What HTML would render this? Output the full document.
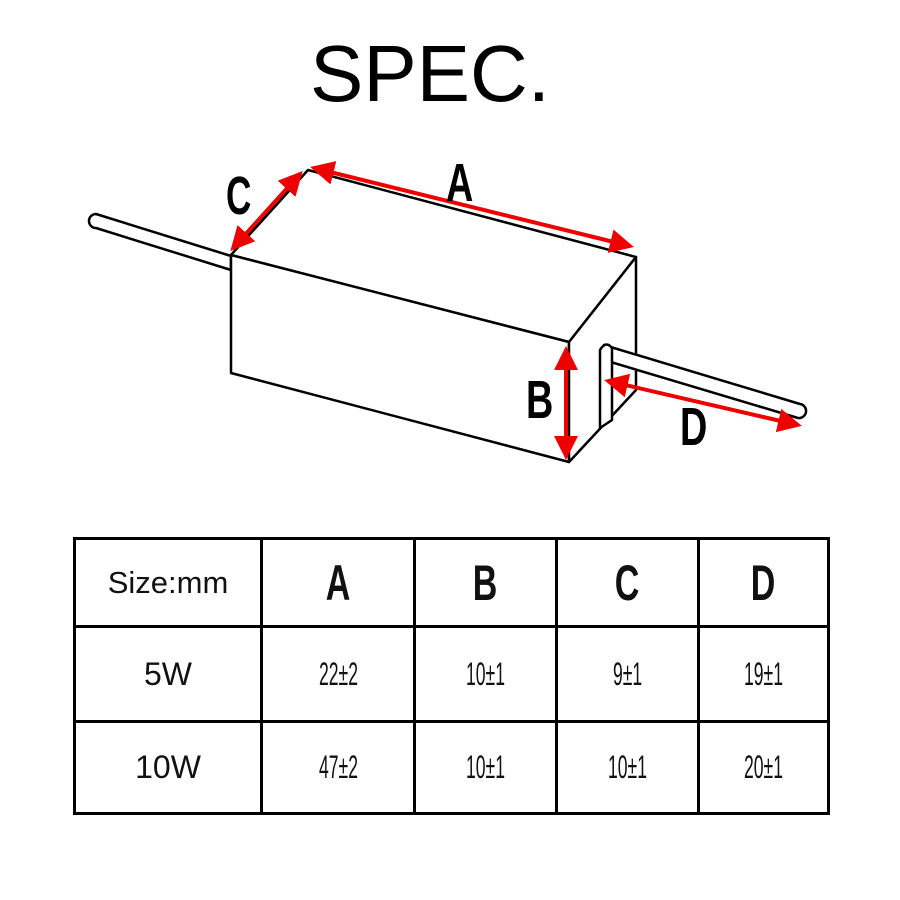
<!DOCTYPE html>
<html><head><style>
body{margin:0;background:#fff;width:900px;height:900px;overflow:hidden;position:relative;font-family:"Liberation Sans",sans-serif}
.t{position:absolute;left:0;top:28px;width:860px;text-align:center;font-size:80px;color:#000}
table{position:absolute;left:73px;top:537px;border-collapse:collapse}
td{border:3px solid #000;text-align:center;padding:0;color:#111}
.h{font-size:50px;font-weight:bold;display:inline-block;transform:scaleX(.68)}
.n{font-size:32px;display:inline-block;transform:scaleX(.55)}
.w{font-size:32px}
</style></head><body>
<div class="t">SPEC.</div>
<svg width="900" height="520" style="position:absolute;left:0;top:0">
<defs><marker id="ar" markerWidth="6" markerHeight="6" refX="5" refY="3" orient="auto-start-reverse"><path d="M0,0L6,3L0,6z" fill="#e00"/></marker></defs>
<g stroke="#000" stroke-width="2.5" fill="#fff" stroke-linejoin="round">
<path d="M96,214 L231,256 L231,270 L96,228 A7,7 0 0 1 96,214z"/>
<path d="M231,255 L308,170 L636,257 L569,342 Z"/>
<path d="M231,255 L569,342 L569,462 L231,373 Z"/>
<path d="M569,342 L636,257 L636,390 L569,462 Z"/>
<path d="M604,345 L800,404 A7,7 0 0 1 798,418 L604,360 Z"/>
<path d="M600,350 Q606,340 612,348 L612,420 L600,428 Z"/>
</g>
<g stroke="#e00" stroke-width="4" fill="none">
<line x1="233" y1="248" x2="300" y2="174" marker-start="url(#ar)" marker-end="url(#ar)"/>
<line x1="314" y1="168" x2="630" y2="246" marker-start="url(#ar)" marker-end="url(#ar)"/>
<line x1="566" y1="350" x2="566" y2="456" marker-start="url(#ar)" marker-end="url(#ar)"/>
<line x1="608" y1="381" x2="798" y2="425" marker-start="url(#ar)" marker-end="url(#ar)"/>
</g>
<g font-family="Liberation Sans" font-weight="bold" font-size="54" fill="#000">
<text x="226" y="214" transform="translate(226 0) scale(.65 1) translate(-226 0)">C</text>
<text x="446" y="201" transform="translate(446 0) scale(.7 1) translate(-446 0)">A</text>
<text x="526" y="418" transform="translate(526 0) scale(.7 1) translate(-526 0)">B</text>
<text x="680" y="445" transform="translate(680 0) scale(.7 1) translate(-680 0)">D</text>
</g>
</svg>
<table>
<tr style="height:88px"><td style="width:184px"><span style="font-size:31px">Size:mm</span></td><td style="width:150px"><span class="h">A</span></td><td style="width:139px"><span class="h">B</span></td><td style="width:139px"><span class="h">C</span></td><td style="width:127px"><span class="h">D</span></td></tr>
<tr style="height:95px"><td class="w">5W</td><td><span class="n">22±2</span></td><td><span class="n">10±1</span></td><td><span class="n">9±1</span></td><td><span class="n">19±1</span></td></tr>
<tr style="height:92px"><td class="w">10W</td><td><span class="n">47±2</span></td><td><span class="n">10±1</span></td><td><span class="n">10±1</span></td><td><span class="n">20±1</span></td></tr>
</table>
</body></html>
